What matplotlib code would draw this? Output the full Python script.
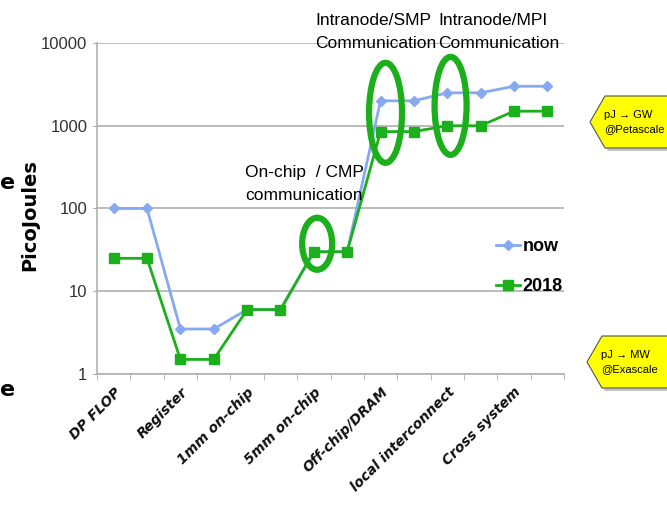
import numpy as np
import matplotlib
matplotlib.use("Agg")
import matplotlib.pyplot as plt
from matplotlib.patches import Ellipse, Polygon
from matplotlib.transforms import ScaledTranslation

narrow = ['Liberation Sans', 'DejaVu Sans']

# category labels (Excel shows every other one)
categories = ['DP FLOP', '', 'Register', '', '1mm on-chip', '', '5mm on-chip', '',
              'Off-chip/DRAM', '', 'local interconnect', '', 'Cross system', '']
now = [100, 100, 3.5, 3.5, 6, 6, 30, 30, 2000, 2000, 2500, 2500, 3000, 3000]
y2018 = [25, 25, 1.5, 1.5, 6, 6, 30, 30, 850, 850, 1000, 1000, 1500, 1500]
yticks = [1, 10, 100, 1000, 10000]

W, H = 667, 523
fig = plt.figure(figsize=(W / 100, H / 100), dpi=100)
ax = fig.add_axes([97 / W, 1 - 374 / H, 467 / W, 331 / H])

x = np.arange(len(categories))
blue = '#86A9F2'
green = '#1BAF1B'

ax.plot(x, now, color=blue, lw=2, marker='D', ms=5, mec=blue, label='now', zorder=3)
ax.plot(x, y2018, color=green, lw=2, marker='s', ms=7, mec=green, label='2018', zorder=3)

ax.set_yscale('log')
ax.set_ylim(1, 10000)
ax.set_yticks(yticks)
ax.set_yticklabels([str(v) for v in yticks], family=narrow, fontsize=12, color='#333333')
ax.yaxis.set_minor_locator(matplotlib.ticker.NullLocator())
ax.set_xlim(-0.5, len(categories) - 0.5)

ax.set_xticks(x[::2])
ax.set_xticklabels(categories[::2], rotation=45, ha='right', rotation_mode='anchor',
                   fontsize=10, fontweight='bold', style='italic', color='#111111')
ax.set_xticks(np.arange(-0.5, len(categories), 1), minor=True)
ax.tick_params(axis='x', which='major', length=0, pad=8)
ax.tick_params(axis='x', which='minor', length=4, color='#aaaaaa', direction='out')
ax.tick_params(axis='y', length=3, color='#aaaaaa', pad=4)

ax.grid(axis='y', color='#b0b0b0', lw=1.2)
ax.set_axisbelow(True)
for s in ['top', 'right']:
    ax.spines[s].set_visible(False)
for s in ['left', 'bottom']:
    ax.spines[s].set_color('#b0b0b0')
    ax.spines[s].set_linewidth(1.2)

leg = ax.legend(loc='upper left', bbox_to_anchor=(0.82, 0.46), frameon=False,
                handlelength=1.3, handletextpad=0.15, labelspacing=1.3,
                prop={'family': narrow, 'size': 13, 'weight': 'bold'})

# green highlight ellipses, anchored at data points, sizes in inches
def ring(xi, yv, w, h):
    tr = fig.dpi_scale_trans + ScaledTranslation(xi, yv, ax.transData)
    e = Ellipse((0, 0), w, h, transform=tr, fill=False, ec=green, lw=4.5, zorder=4,
                clip_on=False)
    fig.add_artist(e)

ring(x[6] + 0.1, now[6] * 1.25, 0.30, 0.52)
ring(x[8] + 0.15, np.sqrt(now[8] * y2018[8]) * 1.1, 0.33, 1.00)
ring(x[10] + 0.1, np.sqrt(now[10] * y2018[10]) * 1.1, 0.32, 0.98)

def ftext(px, py, s, **kw):
    fig.text(px / W, 1 - py / H, s, **kw)

ftext(245, 184, 'On-chip  / CMP\ncommunication', family=narrow, fontsize=12.5,
      va='center', linespacing=1.6)
ftext(315, 32, 'Intranode/SMP\nCommunication', family=narrow, fontsize=12.5,
      va='center', linespacing=1.6)
ftext(438, 32, 'Intranode/MPI\nCommunication', family=narrow, fontsize=12.5,
      va='center', linespacing=1.6)

ftext(30, 215, 'PicoJoules', rotation=90, fontsize=14, fontweight='bold',
      ha='center', va='center')
ftext(0, 183, 'e', fontsize=16, fontweight='bold', ha='left', va='center')
ftext(0, 390, 'e', fontsize=16, fontweight='bold', ha='left', va='center')

# yellow callout tags
def tag(tipx, top, bot, text):
    mid = (top + bot) / 2
    pts = [(tipx, mid), (tipx + 15, top), (672, top), (672, bot), (tipx + 15, bot)]
    sh = [((px + 3) / W, 1 - (py + 3) / H) for px, py in pts]
    fig.add_artist(Polygon(sh, closed=True, fc='#888888', ec='none', alpha=0.5))
    pf = [(px / W, 1 - py / H) for px, py in pts]
    fig.add_artist(Polygon(pf, closed=True, fc='#FFFF00', ec='#555555', lw=0.8))
    ftext(tipx + 14, mid, text, family=narrow, fontsize=8, va='center',
          linespacing=1.5)

tag(590, 96, 148, 'pJ → GW\n@Petascale')
tag(587, 336, 388, 'pJ → MW\n@Exascale')

fig.savefig('out.png', dpi=100)
